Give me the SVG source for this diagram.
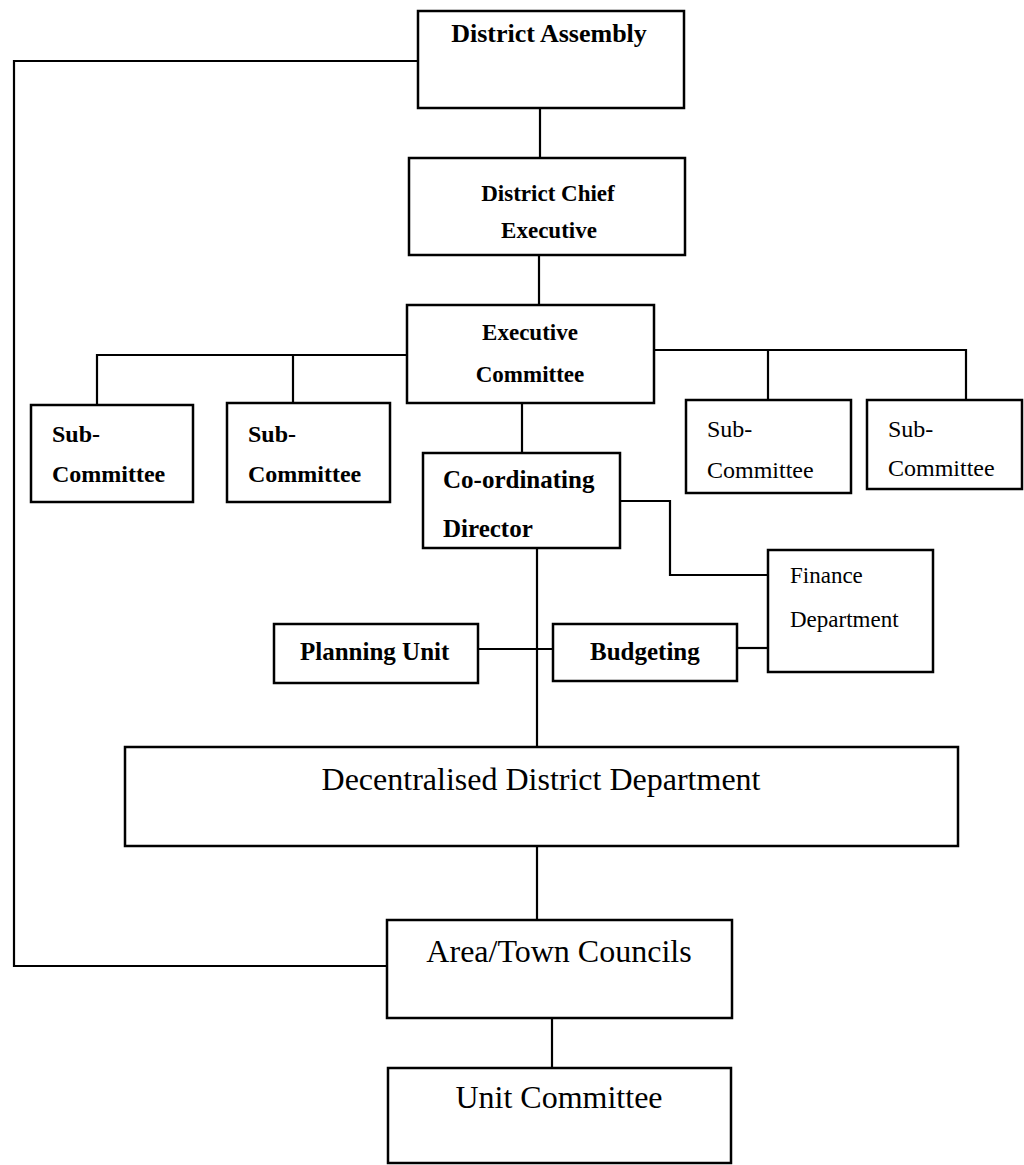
<svg xmlns="http://www.w3.org/2000/svg" width="1024" height="1165" viewBox="0 0 1024 1165">
<style>
.box{fill:#fff;stroke:#000;stroke-width:2.5}
.ln{fill:none;stroke:#000;stroke-width:2.2}
.b{font-family:"Liberation Serif","Times New Roman",serif;font-weight:bold;fill:#000}
.r{font-family:"Liberation Serif","Times New Roman",serif;fill:#000}
.m{text-anchor:middle}
</style>
<rect width="1024" height="1165" fill="#fff"/>
<g id="connectors">
<polyline class="ln" points="418,61 14,61 14,966 387,966"/>
<line class="ln" x1="540" y1="108" x2="540" y2="158"/>
<line class="ln" x1="539" y1="255" x2="539" y2="305"/>
<polyline class="ln" points="407,355 97,355 97,405"/>
<line class="ln" x1="293" y1="355" x2="293" y2="403"/>
<polyline class="ln" points="654,350 966,350 966,400"/>
<line class="ln" x1="768" y1="350" x2="768" y2="400"/>
<line class="ln" x1="522" y1="403" x2="522" y2="453"/>
<polyline class="ln" points="620,501 670,501 670,575 768,575"/>
<line class="ln" x1="537" y1="548" x2="537" y2="747"/>
<line class="ln" x1="478" y1="649" x2="553" y2="649"/>
<line class="ln" x1="737" y1="648" x2="768" y2="648"/>
<line class="ln" x1="537" y1="846" x2="537" y2="920"/>
<line class="ln" x1="552" y1="1018" x2="552" y2="1068"/>
</g>
<g id="district-assembly"><rect class="box" x="418" y="11" width="266" height="97"/><text class="b m" x="549" y="42" font-size="26">District Assembly</text></g>
<g id="district-chief-executive"><rect class="box" x="409" y="158" width="276" height="97"/><text class="b m" x="548" y="201" font-size="23">District Chief</text><text class="b m" x="549" y="238" font-size="23">Executive</text></g>
<g id="executive-committee"><rect class="box" x="407" y="305" width="247" height="98"/><text class="b m" x="530" y="340" font-size="23">Executive</text><text class="b m" x="530" y="382" font-size="23">Committee</text></g>
<g id="sub-committee-1"><rect class="box" x="31" y="405" width="162" height="97"/><text class="b" x="52" y="442" font-size="24">Sub-</text><text class="b" x="52" y="482" font-size="24">Committee</text></g>
<g id="sub-committee-2"><rect class="box" x="227" y="403" width="163" height="99"/><text class="b" x="248" y="442" font-size="24">Sub-</text><text class="b" x="248" y="482" font-size="24">Committee</text></g>
<g id="sub-committee-3"><rect class="box" x="686" y="400" width="165" height="93"/><text class="r" x="707" y="437" font-size="24">Sub-</text><text class="r" x="707" y="478" font-size="24">Committee</text></g>
<g id="sub-committee-4"><rect class="box" x="867" y="400" width="155" height="89"/><text class="r" x="888" y="437" font-size="24">Sub-</text><text class="r" x="888" y="476" font-size="24">Committee</text></g>
<g id="co-ordinating-director"><rect class="box" x="423" y="453" width="197" height="95"/><text class="b" x="443" y="488" font-size="25">Co-ordinating</text><text class="b" x="443" y="537" font-size="25">Director</text></g>
<g id="finance-department"><rect class="box" x="768" y="550" width="165" height="122"/><text class="r" x="790" y="583" font-size="23">Finance</text><text class="r" x="790" y="627" font-size="23">Department</text></g>
<g id="planning-unit"><rect class="box" x="274" y="624" width="204" height="59"/><text class="b" x="300" y="660" font-size="25">Planning Unit</text></g>
<g id="budgeting"><rect class="box" x="553" y="624" width="184" height="57"/><text class="b" x="590" y="660" font-size="25">Budgeting</text></g>
<g id="decentralised-district-department"><rect class="box" x="125" y="747" width="833" height="99"/><text class="r m" x="541" y="790" font-size="32">Decentralised District Department</text></g>
<g id="area-town-councils"><rect class="box" x="387" y="920" width="345" height="98"/><text class="r m" x="559" y="962" font-size="32">Area/Town Councils</text></g>
<g id="unit-committee"><rect class="box" x="388" y="1068" width="343" height="95"/><text class="r m" x="559" y="1108" font-size="32">Unit Committee</text></g>
</svg>
